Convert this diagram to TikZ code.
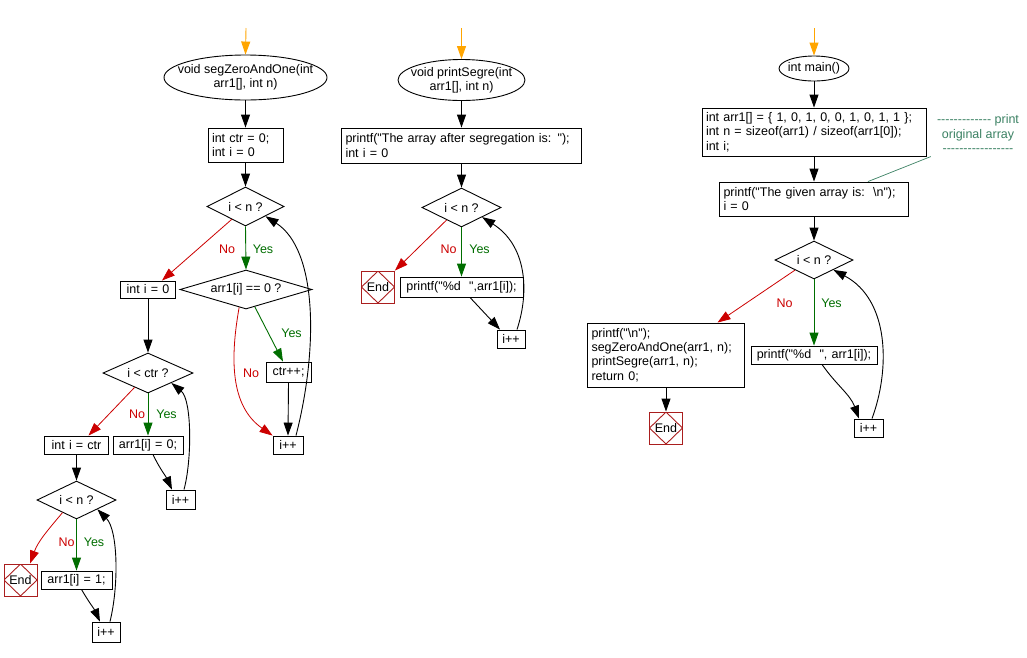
\documentclass[tikz,border=0pt]{standalone}
\usepackage{fontspec}
\newfontfamily\lsans{Liberation Sans}
\usetikzlibrary{shapes.geometric, arrows.meta, calc}
\definecolor{cred}{RGB}{204,0,0}
\definecolor{cgreen}{RGB}{0,110,0}
\definecolor{corange}{RGB}{255,165,0}
\definecolor{cend}{RGB}{170,30,30}
\definecolor{cnote}{RGB}{60,130,100}
\begin{document}
\begin{tikzpicture}[x=1pt, y=1pt,
  every node/.style={font=\lsans\fontsize{12.5}{14.3}\selectfont},
  bx/.style 2 args={draw, rectangle, line width=0.9pt, inner xsep=0pt, inner ysep=0pt, text width=#1, minimum height=#2, align=center},
  lbx/.style 2 args={draw, rectangle, line width=0.9pt, inner xsep=4pt, inner ysep=0pt, text width=#1, minimum height=#2, align=left},
  dia/.style n args={3}{diamond, draw, line width=0.9pt, inner sep=0pt, minimum width=#1, minimum height=#2, shape aspect=#3},
  ell/.style 2 args={ellipse, draw, line width=0.9pt, inner sep=0pt, minimum width=#1, minimum height=#2},
  etext/.style={inner sep=0pt, align=center},
  endn/.style={rectangle, draw=cend, line width=0.9pt, minimum width=33pt, minimum height=32pt, inner sep=0pt,
    path picture={\draw[cend, line width=0.9pt] (path picture bounding box.north) -- (path picture bounding box.east) -- (path picture bounding box.south) -- (path picture bounding box.west) -- cycle;}},
  arr/.style={line width=0.9pt, -{Triangle[length=13pt, width=9pt]}},
  noarr/.style={arr, draw=cred, line width=0.8pt},
  yesarr/.style={arr, draw=cgreen},
  startarr/.style={arr, draw=corange},
  nolab/.style={text=cred, inner sep=0pt, anchor=base},
  yeslab/.style={text=cgreen, inner sep=0pt, anchor=base},
]
\fill[white] (0,0) rectangle (1027,-657);
\useasboundingbox (0,0) rectangle (1027,-657);

% ---------------- left: segZeroAndOne ----------------
\coordinate (s1) at (246,-28);
\node[ell={163pt}{45pt}] (e1) at (245.5,-77.5) {};
\node[etext] (e1t) at (e1.center) {void segZeroAndOne(int\\arr1[], int n)};
\node[lbx={67pt}{34pt}] (b1) at (245.5,-145) {int ctr = 0;\\int i = 0};
\node[dia={77pt}{39pt}{1.97}] (d1) at (245.5,-206.5) {i < n ?};
\node[bx={55pt}{17pt}] (i0) at (148,-289.5) {int i = 0};
\node[dia={132pt}{39pt}{3.38}] (d2) at (246,-289.5) {arr1[i] == 0 ?};
\node[bx={45pt}{20pt}] (ctr) at (288.5,-372) {ctr++;};
\node[bx={30pt}{18pt}] (p1) at (288,-445) {i++};
\node[dia={90pt}{40pt}{2.25}] (d3) at (148,-373) {i < ctr ?};
\node[bx={64pt}{18pt}] (ib) at (76.5,-445) {int i = ctr};
\node[bx={70pt}{18pt}] (a0) at (148,-445) {arr1[i] = 0;};
\node[bx={29pt}{19pt}] (p2) at (180.5,-499.5) {i++};
\node[dia={79pt}{38pt}{2.08}] (d4) at (76.5,-500) {i < n ?};
\node[endn] (end1) at (20.5,-580) {End};
\node[bx={71pt}{18pt}] (a1) at (76.5,-580) {arr1[i] = 1;};
\node[bx={28pt}{20pt}] (p3) at (106,-632) {i++};

\node[nolab] (n1) at (227,-253.5) {No};
\node[yeslab] (y1) at (263,-253.5) {Yes};
\node[yeslab] (y2) at (291.5,-337.5) {Yes};
\node[nolab] (n2) at (251,-377.5) {No};
\node[nolab] (n3) at (137,-418.5) {No};
\node[yeslab] (y3) at (166.5,-418.5) {Yes};
\node[nolab] (n4) at (66.5,-546.5) {No};
\node[yeslab] (y4) at (94,-546.5) {Yes};

\draw[startarr] (s1) -- (e1.north);
\draw[arr] (e1.south) -- (b1.north);
\draw[arr] (b1.south) -- (d1.north);
\draw[noarr] (d1.-137) -- ($(i0.north east)+(-14,0)$);
\draw[yesarr] (d1.south) -- (d2.north);
\draw[yesarr] (d2.-63) -- ($(ctr.north)+(-5.5,0)$);
\draw[noarr] (d2.-111) to[out=-100, in=145] (p1.north west);
\draw[arr] (ctr.south) -- (p1.north);
\draw[arr] ($(p1.north)+(8,0)$) .. controls (318,-350) and (318,-250) .. (d1.-26);
\draw[arr] (i0.south) -- (d3.north);
\draw[noarr] (d3.227) -- ($(ib.north)+(12,0)$);
\draw[yesarr] (d3.south) -- (a0.north);
\draw[arr] ($(a0.south)+(5,0)$) to[out=-65, in=115] ($(p2.north)+(-8.5,0)$);
\draw[arr] ($(p2.north)+(3.5,0)$) .. controls (192,-460) and (192,-400) .. (d3.-23);
\draw[arr] (ib.south) -- (d4.north);
\draw[noarr] (d4.222) to[out=-130, in=70] ($(end1.north)+(9.5,0)$);
\draw[yesarr] (d4.south) -- (a1.north);
\draw[arr] ($(a1.south)+(5,0)$) to[out=-60, in=115] ($(p3.north)+(-6,0)$);
\draw[arr] ($(p3.north)+(4,0)$) .. controls (119,-585) and (118,-530) .. (d4.-24);

% ---------------- middle: printSegre ----------------
\coordinate (s2) at (461.5,-28);
\node[ell={127pt}{41pt}] (e2) at (461.5,-80) {};
\node[etext] (e2t) at (e2.center) {void printSegre(int\\arr1[], int n)};
\node[lbx={232pt}{35pt}] (b2) at (461.5,-145.5) {printf("The array after segregation is: ");\\int i = 0};
\node[dia={79pt}{39pt}{2.03}] (d5) at (461.5,-207.5) {i < n ?};
\node[endn] (end2) at (378,-287) {End};
\node[bx={123pt}{20pt}] (pf) at (461.5,-287) {printf("\%d\ \ ",arr1[i]);};
\node[bx={28pt}{18pt}] (p4) at (511,-339) {i++};

\node[nolab] (n5) at (448.5,-253.5) {No};
\node[yeslab] (y5) at (479.5,-253.5) {Yes};

\draw[startarr] (s2) -- (e2.north);
\draw[arr] (e2.south) -- (b2.north);
\draw[arr] (b2.south) -- (d5.north);
\draw[noarr] (d5.220) -- (end2.north east);
\draw[yesarr] (d5.south) -- (pf.north);
\draw[arr] ($(pf.south)+(8.5,0)$) -- ($(p4.north)+(-11,0)$);
\draw[arr] ($(p4.north)+(6,0)$) .. controls (530,-290) and (526,-245) .. (d5.-25);

% ---------------- right: main ----------------
\coordinate (s3) at (814,-28);
\node[ell={70pt}{25pt}] (e3) at (814,-68.5) {};
\node[etext] (e3t) at (e3.center) {int main()};
\node[lbx={216pt}{48pt}] (b3) at (814,-132) {int arr1[] = \{ 1, 0, 1, 0, 0, 1, 0, 1, 1 \};\\int n = sizeof(arr1) / sizeof(arr1[0]);\\int i;};
\node[lbx={181pt}{34pt}] (b4) at (814,-199) {printf("The given array is:\ \ \textbackslash n");\\i = 0};
\node[dia={78pt}{38pt}{2.05}] (d6) at (814,-260) {i < n ?};
\node[lbx={149pt}{64pt}] (b5) at (666,-355) {printf("\textbackslash n");\\segZeroAndOne(arr1, n);\\printSegre(arr1, n);\\return 0;};
\node[bx={126pt}{18pt}] (pr) at (814,-355) {printf("\%d\ \ ", arr1[i]);};
\node[bx={29pt}{18pt}] (p5) at (868.5,-428) {i++};
\node[endn] (end3) at (666,-428) {End};
\node[text=cnote, inner sep=0pt, align=center] (cm) at (978,-133.5) {------------- print\\original array\\-----------------};
\coordinate (cmc) at ($(cm.south west)+(-6,-4)$);

\node[nolab] (n6) at (784.5,-307.5) {No};
\node[yeslab] (y6) at (831.5,-307.5) {Yes};

\draw[startarr] (s3) -- (e3.north);
\draw[arr] (e3.south) -- (b3.north);
\draw[arr] (b3.south) -- (b4.north);
\draw[arr] (b4.south) -- (d6.north);
\draw[noarr] (d6.208) -- ($(b5.north)+(51.5,0)$);
\draw[yesarr] (d6.south) -- (pr.north);
\draw[arr] ($(pr.south)+(8,0)$) to[out=-55, in=110] ($(p5.north)+(-9.5,0)$);
\draw[arr] ($(p5.north)+(3.5,0)$) .. controls (890,-370) and (890,-300) .. (d6.-27);
\draw[arr] (b5.south) -- (end3.north);
\draw[cnote, line width=0.7pt] (cmc) -- ($(b4.north)+(54,0)$);
\end{tikzpicture}
\end{document}
